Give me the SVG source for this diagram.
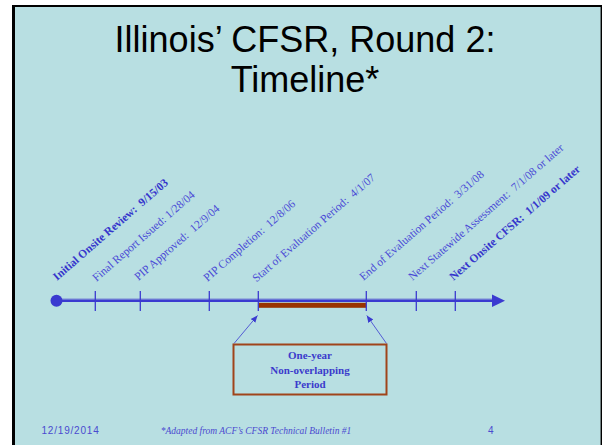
<svg xmlns="http://www.w3.org/2000/svg" width="602" height="445" viewBox="0 0 602 445">
  <defs>
    <marker id="tip" markerWidth="8" markerHeight="8" refX="7" refY="4" orient="auto" markerUnits="userSpaceOnUse">
      <path d="M0,1 L7,4 L0,7 Z" fill="#3a3ad0"/>
    </marker>
    <style>
      .lbl { font-family: "Liberation Serif", "Times New Roman", serif; font-size: 11.5px; fill: #4a4ad6; white-space: pre; }
      .lbl.b { font-weight: bold; fill: #3535cc; }
      .tick { stroke: #3a3ad0; stroke-width: 1.3; }
      .box-t { font-family: "Liberation Serif", "Times New Roman", serif; font-size: 11px; font-weight: bold; fill: #3b3bcc; text-anchor: middle; }
      .foot { font-family: "Liberation Sans", Arial, sans-serif; font-size: 10px; fill: #4a4ad0; }
    </style>
  </defs>

  <!-- page and slide frame -->
  <rect x="0" y="0" width="602" height="445" fill="#ffffff"/>
  <rect x="12" y="5" width="590" height="440" fill="#000000"/>
  <rect x="15" y="7" width="585" height="438" fill="#b8dfe2"/>
  <line x1="600.5" y1="7" x2="600.5" y2="445" stroke="#6f7f80" stroke-width="1"/>

  <!-- title -->
  <g id="title" font-family="Liberation Sans, Arial, sans-serif" font-size="36" fill="#000" text-anchor="middle">
    <text x="305" y="52">Illinois’ CFSR, Round 2:</text>
    <text x="305" y="92">Timeline*</text>
  </g>

  <!-- timeline axis -->
  <g id="axis">
    <line x1="56" y1="299" x2="494" y2="299" stroke="#8fa6d8" stroke-width="1.5"/>
    <line x1="56" y1="300.8" x2="494" y2="300.8" stroke="#3a3ad0" stroke-width="2.6"/>
    <circle cx="56.5" cy="300.8" r="6" fill="#3a3ad0"/>
    <path d="M492,294.5 L505,300.8 L492,307 Z" fill="#3a3ad0"/>
    <rect x="258.3" y="302.8" width="108" height="5" fill="#993300"/>
    <line class="tick" x1="95.3" y1="291" x2="95.3" y2="311"/>
    <line class="tick" x1="140.3" y1="291" x2="140.3" y2="311"/>
    <line class="tick" x1="209.3" y1="291" x2="209.3" y2="311"/>
    <line class="tick" x1="258.3" y1="291" x2="258.3" y2="311"/>
    <line class="tick" x1="366.3" y1="291" x2="366.3" y2="311"/>
    <line class="tick" x1="416.3" y1="291" x2="416.3" y2="311"/>
    <line class="tick" x1="455.3" y1="291" x2="455.3" y2="311"/>
  </g>

  <!-- milestone labels -->
  <g id="m1"><text class="lbl b" transform="translate(57,281) rotate(-41)">Initial Onsite Review:  9/15/03</text></g>
  <g id="m2"><text class="lbl" transform="translate(96.5,282) rotate(-41)">Final Report Issued: 1/28/04</text></g>
  <g id="m3"><text class="lbl" transform="translate(138.5,281) rotate(-41)">PIP Approved:  12/9/04</text></g>
  <g id="m4"><text class="lbl" transform="translate(207.5,282) rotate(-41)">PIP Completion:  12/8/06</text></g>
  <g id="m5"><text class="lbl" transform="translate(256.5,282.5) rotate(-41)">Start of Evaluation Period:  4/1/07</text></g>
  <g id="m6"><text class="lbl" transform="translate(363.5,281) rotate(-41)">End of Evaluation Period:  3/31/08</text></g>
  <g id="m7"><text class="lbl" transform="translate(412.5,281) rotate(-41)">Next Statewide Assessment:  7/1/08 or later</text></g>
  <g id="m8"><text class="lbl b" transform="translate(453.5,281) rotate(-41)">Next Onsite CFSR:  1/1/09 or later</text></g>

  <!-- connectors from the note box to the period ends -->
  <g id="connectors" stroke="#3a3ad0" stroke-width="0.8" fill="none">
    <line x1="234" y1="343.5" x2="257.5" y2="315.5" marker-end="url(#tip)"/>
    <line x1="386.5" y1="343.5" x2="366.8" y2="315.5" marker-end="url(#tip)"/>
  </g>

  <!-- note box -->
  <g id="period-note">
    <rect x="233.5" y="344.5" width="153" height="50" fill="none" stroke="#a0441a" stroke-width="2"/>
    <text class="box-t" x="310" y="359">One-year</text>
    <text class="box-t" x="310" y="374">Non-overlapping</text>
    <text class="box-t" x="310" y="387.5">Period</text>
  </g>

  <!-- footer -->
  <g id="footer">
    <text class="foot" x="41.5" y="434" letter-spacing="0.8">12/19/2014</text>
    <text x="256" y="434" text-anchor="middle" font-family="Liberation Serif, Times New Roman, serif" font-style="italic" font-size="9.5" fill="#4a4ad0">*Adapted from ACF’s CFSR Technical Bulletin #1</text>
    <text class="foot" x="488" y="434">4</text>
  </g>
</svg>
